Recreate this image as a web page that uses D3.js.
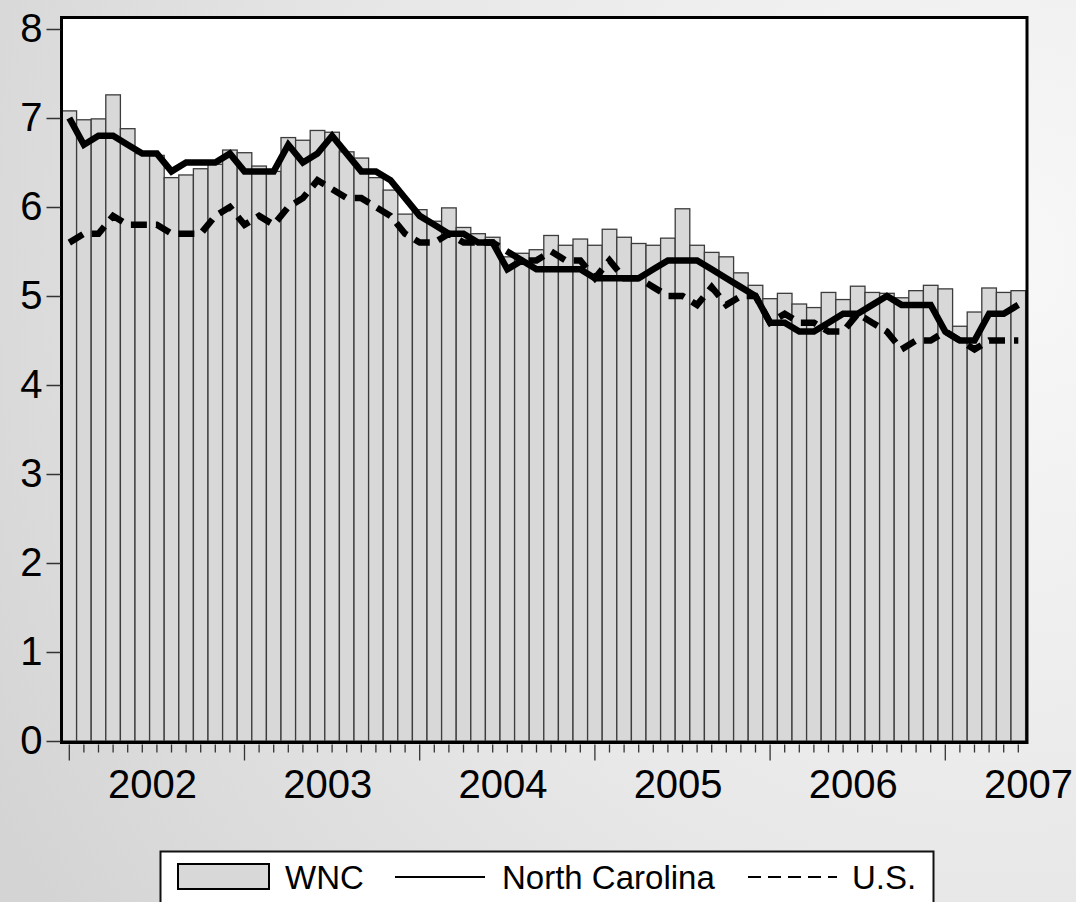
<!DOCTYPE html>
<html>
<head>
<meta charset="utf-8">
<script src="https://cdn.jsdelivr.net/npm/d3@7"></script>
<style>
  html, body { margin: 0; padding: 0; }
  body { width: 1076px; height: 902px; overflow: hidden; }
  text { font-family: "Liberation Sans", Arial, sans-serif; fill: #000; }
</style>
</head>
<body>
<svg id="chart" width="1076" height="902"></svg>
<script>
"use strict";

// monthly observations, Jan 2002 .. Jun 2007
const months = d3.timeMonth.range(new Date(2002, 0, 1), new Date(2007, 6, 1));
const yearLabels = ["2002", "2003", "2004", "2005", "2006", "2007"];
const yTicks = [0, 1, 2, 3, 4, 5, 6, 7, 8];

const wnc = [
  7.08, 6.98, 6.99, 7.26, 6.88, 6.60, 6.58, 6.33, 6.36, 6.43, 6.48, 6.64,
  6.61, 6.46, 6.40, 6.78, 6.75, 6.86, 6.84, 6.62, 6.55, 6.33, 6.19, 5.92,
  5.97, 5.84, 5.99, 5.77, 5.70, 5.66, 5.44, 5.48, 5.52, 5.68, 5.57, 5.64,
  5.57, 5.75, 5.66, 5.59, 5.57, 5.65, 5.98, 5.57, 5.49, 5.44, 5.26, 5.12,
  4.97, 5.03, 4.91, 4.87, 5.04, 4.96, 5.11, 5.04, 5.03, 4.98, 5.06, 5.12,
  5.08, 4.66, 4.82, 5.09, 5.04, 5.06
];
const northCarolina = [
  7.0, 6.7, 6.8, 6.8, 6.7, 6.6, 6.6, 6.4, 6.5, 6.5, 6.5, 6.6,
  6.4, 6.4, 6.4, 6.7, 6.5, 6.6, 6.8, 6.6, 6.4, 6.4, 6.3, 6.1,
  5.9, 5.8, 5.7, 5.7, 5.6, 5.6, 5.3, 5.4, 5.3, 5.3, 5.3, 5.3,
  5.2, 5.2, 5.2, 5.2, 5.3, 5.4, 5.4, 5.4, 5.3, 5.2, 5.1, 5.0,
  4.7, 4.7, 4.6, 4.6, 4.7, 4.8, 4.8, 4.9, 5.0, 4.9, 4.9, 4.9,
  4.6, 4.5, 4.5, 4.8, 4.8, 4.9
];
const us = [
  5.6, 5.7, 5.7, 5.9, 5.8, 5.8, 5.8, 5.7, 5.7, 5.7, 5.9, 6.0,
  5.8, 5.9, 5.8, 6.0, 6.1, 6.3, 6.2, 6.1, 6.1, 6.0, 5.9, 5.7,
  5.6, 5.6, 5.7, 5.6, 5.6, 5.6, 5.5, 5.4, 5.4, 5.5, 5.4, 5.4,
  5.2, 5.4, 5.2, 5.2, 5.1, 5.0, 5.0, 4.9, 5.1, 4.9, 5.0, 5.0,
  4.7, 4.8, 4.7, 4.7, 4.6, 4.6, 4.8, 4.7, 4.6, 4.4, 4.5, 4.5,
  4.6, 4.5, 4.4, 4.5, 4.5, 4.5
];

const width = 1076, height = 902;
const box = { left: 61.5, top: 17.5, right: 1027, bottom: 742.5 };

const svg = d3.select("#chart");
const defs = svg.append("defs");

// soft grey page background
const bg = defs.append("radialGradient")
    .attr("id", "bg")
    .attr("gradientUnits", "userSpaceOnUse")
    .attr("cx", 1000).attr("cy", 260).attr("r", 1150);
bg.append("stop").attr("offset", 0).attr("stop-color", "#f8f8f8");
bg.append("stop").attr("offset", 0.55).attr("stop-color", "#e8e8e8");
bg.append("stop").attr("offset", 1).attr("stop-color", "#d4d4d4");

svg.append("rect")
    .attr("width", width).attr("height", height)
    .attr("fill", "url(#bg)");

const x = d3.scaleBand()
    .domain(months)
    .range([62, 1025.6])
    .padding(0);

const y = d3.scaleLinear()
    .domain([0, 8])
    .range([741, 29]);

const cx = (d, i) => x(months[i]) + x.bandwidth() / 2;

// plot area
svg.append("rect")
    .attr("x", box.left).attr("y", box.top)
    .attr("width", box.right - box.left).attr("height", box.bottom - box.top)
    .attr("fill", "#fff");

// WNC bars
svg.append("g")
  .selectAll("rect")
  .data(wnc)
  .join("rect")
    .attr("x", (d, i) => x(months[i]))
    .attr("y", d => y(d))
    .attr("width", x.bandwidth())
    .attr("height", d => y(0) - y(d))
    .attr("fill", "#d8d8d8")
    .attr("stroke", "#3c3c3c")
    .attr("stroke-width", 1.3);

const line = d3.line().x(cx).y(d => y(d));

svg.append("path")
    .datum(northCarolina)
    .attr("d", line)
    .attr("fill", "none")
    .attr("stroke", "#000")
    .attr("stroke-width", 6.5);

svg.append("path")
    .datum(us)
    .attr("d", line)
    .attr("fill", "none")
    .attr("stroke", "#000")
    .attr("stroke-width", 6.5)
    .attr("stroke-dasharray", "16,9");

// frame
svg.append("rect")
    .attr("x", box.left).attr("y", box.top)
    .attr("width", box.right - box.left).attr("height", box.bottom - box.top)
    .attr("fill", "none")
    .attr("stroke", "#000")
    .attr("stroke-width", 3);

// y axis
const yAxis = svg.append("g")
    .attr("transform", `translate(${box.left - 1},0)`)
    .call(d3.axisLeft(y).tickValues(yTicks).tickSize(14).tickPadding(4).tickFormat(d3.format("d")));
yAxis.select(".domain").remove();
yAxis.selectAll(".tick line").attr("stroke", "#333").attr("stroke-width", 1.5);
yAxis.selectAll(".tick text")
    .style("font-size", "40px")
    .attr("font-family", null)
    .attr("fill", "#000");

// x axis: month ticks, longer at January
const xAxis = svg.append("g")
    .attr("transform", `translate(0,${box.bottom + 2})`)
    .call(d3.axisBottom(x).tickSize(8).tickFormat(""));
xAxis.select(".domain").remove();
xAxis.selectAll(".tick line")
    .attr("stroke", "#333")
    .attr("stroke-width", 1.3)
    .attr("y2", d => d.getMonth() === 0 ? 16 : 8);

svg.append("g")
  .selectAll("text")
  .data(yearLabels)
  .join("text")
    .attr("x", d => x(new Date(+d, 0, 1)) + x.bandwidth() / 2 + x.step() * 5.7)
    .attr("y", 798)
    .attr("text-anchor", "middle")
    .style("font-size", "40px")
    .text(d => d);

// legend
const legend = svg.append("g");
legend.append("rect")
    .attr("x", 160.5).attr("y", 851.5)
    .attr("width", 773).attr("height", 70)
    .attr("fill", "#fff")
    .attr("stroke", "#111")
    .attr("stroke-width", 2);

legend.append("rect")
    .attr("x", 178).attr("y", 864)
    .attr("width", 91).attr("height", 25)
    .attr("fill", "#d8d8d8")
    .attr("stroke", "#000")
    .attr("stroke-width", 2);
legend.append("text").attr("x", 285).attr("y", 889).style("font-size", "33px").text("WNC");

legend.append("line")
    .attr("x1", 395).attr("x2", 485).attr("y1", 877).attr("y2", 877)
    .attr("stroke", "#000").attr("stroke-width", 2);
legend.append("text").attr("x", 502).attr("y", 889).style("font-size", "33px").text("North Carolina");

legend.append("line")
    .attr("x1", 748).attr("x2", 837).attr("y1", 877).attr("y2", 877)
    .attr("stroke", "#000").attr("stroke-width", 2)
    .attr("stroke-dasharray", "13,7");
legend.append("text").attr("x", 852).attr("y", 889).style("font-size", "33px").text("U.S.");
</script>
</body>
</html>
